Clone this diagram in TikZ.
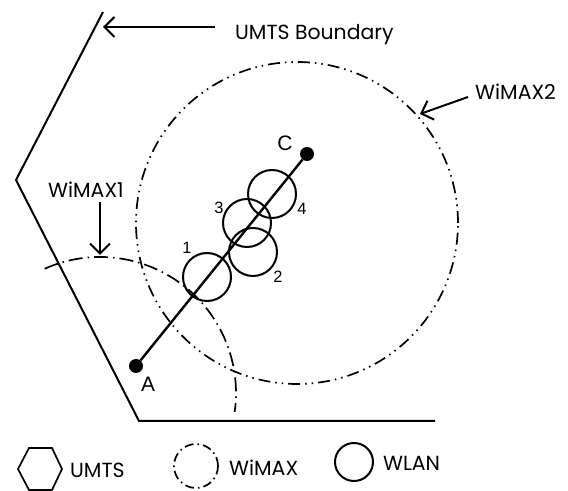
\documentclass[tikz,border=0pt]{standalone}
\usepackage{fontspec}
\setmainfont{Poppins}
\newfontfamily\arialf{Liberation Sans}
\usetikzlibrary{arrows.meta}
\begin{document}
\begin{tikzpicture}[x=1bp,y=1bp,
    arr/.style={-{Straight Barb[length=10bp,width=20bp]},line width=2bp},
    wimaxa/.style={line width=1.7bp,dash pattern=on 14bp off 5bp on 1.5bp off 5bp},
    wimaxb/.style={line width=1.7bp,dash pattern=on 12bp off 5bp on 1.5bp off 5bp on 1.5bp off 5bp},
    wlan/.style={line width=2bp},
    lbl/.style={inner sep=0pt,anchor=west,font=\fontsize{20.5}{23}\selectfont},
    num/.style={inner sep=0pt,font=\arialf\fontsize{16.5}{18}\selectfont},
    dot/.style={circle,fill,inner sep=0pt,minimum size=14bp}]
    \useasboundingbox (0,0) rectangle (568,491);
    % UMTS cell
    \draw[line width=2bp] (103,479) -- (16,311) -- (139,70) -- (435,70);
    \node[lbl] (umtsLbl) at (235,456) {UMTS Boundary};
    \coordinate (umtsTail) at (215,464);
    \coordinate (umtsTip) at (103,464);
    \draw[arr] (umtsTail) -- (umtsTip);
    % WiMAX cells
    \draw[wimaxb] (297,268) circle (161);
    \draw[wimaxa] (100,98) ++(114:136) arc (114:-8:136);
    \node[lbl] (wmxbLbl) at (475,399) {WiMAX2};
    \coordinate (wmxbTail) at (468,394);
    \coordinate (wmxbTip) at (420,377);
    \draw[arr] (wmxbTail) -- (wmxbTip);
    \node[lbl] (wmxaLbl) at (48,301) {WiMAX1};
    \coordinate (wmxaTail) at (100,289);
    \coordinate (wmxaTip) at (100,236);
    \draw[arr] (wmxaTail) -- (wmxaTip);
    % path A -> C
    \node[dot] (A) at (136,125) {};
    \node[dot] (C) at (307,337) {};
    \draw[line width=2.4bp] (A) -- (C);
    \node[num,font=\arialf\fontsize{21}{23}\selectfont] (Alab) at (148,107) {A};
    \node[num,font=\arialf\fontsize{21}{23}\selectfont] (Clab) at (285,348) {C};
    % WLAN hotspots
    \foreach \x/\y/\lx/\ly/\lab in {207/214/187/243/1,253/239/278/214/2,247/268/219/283/3,272/297/302/282/4} {
        \draw[wlan] (\x,\y) circle (24);
        \node[num] (w\lab) at (\lx,\ly) {\lab};
    }
    % legend
    \draw[line width=1.7bp] (18,22) -- (29,43) -- (52,43) -- (62,22) -- (52,1) -- (29,1) -- cycle;
    \node[lbl] (legU) at (70,21) {UMTS};
    \draw[wimaxb,dash pattern=on 9bp off 4bp on 1.5bp off 4bp] (196,25) circle (22);
    \node[lbl] (legW) at (229,23) {WiMAX};
    \draw[wlan] (354,29) circle (19);
    \node[lbl] (legL) at (383,28) {WLAN};
\end{tikzpicture}
\end{document}
